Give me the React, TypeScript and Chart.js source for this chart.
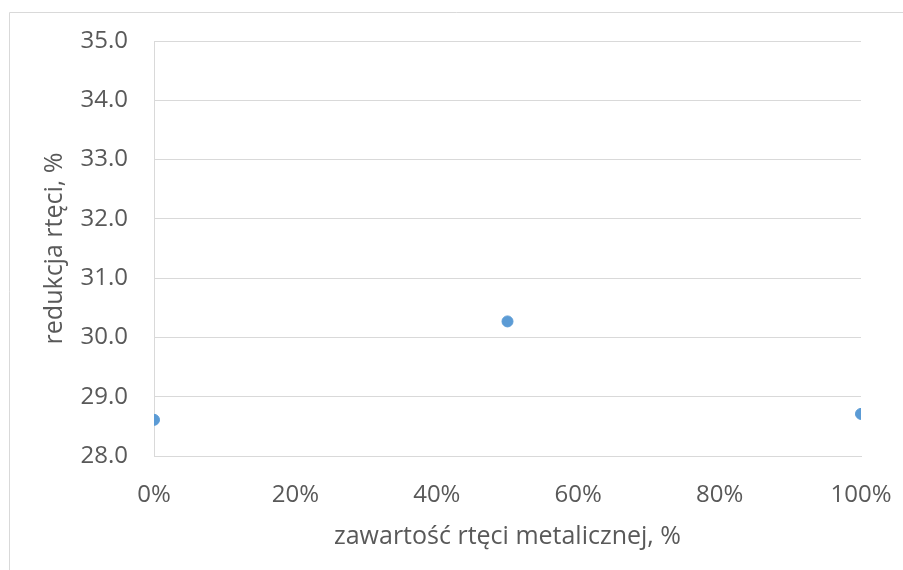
import React, { useEffect, useRef } from "react";
import { Chart, registerables } from "chart.js";

Chart.register(...registerables);

// Metallic mercury share (%) and the resulting mercury reduction (%)
const metallicShare = [0, 50, 100];
const mercuryReduction = [28.61, 30.27, 28.71];

const xTickValues = [0, 20, 40, 60, 80, 100];
const yMin = 28;
const yMax = 35;

const xTitle = "zawartość rtęci metalicznej, %";
const yTitle = "redukcja rtęci, %";

const TEXT = "#595959";
const GRID = "#d9d9d9";
const POINT = "#5b9bd5";
const FONT = "'Open Sans', 'Noto Sans', sans-serif";
const TICK_SIZE = 24;
const TITLE_SIZE = 25;

// Light frame around the whole chart object (top and left edges visible)
const framePlugin = {
  id: "outerFrame",
  beforeDraw(chart: any) {
    const { ctx, width, height } = chart;
    ctx.save();
    ctx.strokeStyle = "#d9d9d9";
    ctx.lineWidth = 1;
    ctx.beginPath();
    ctx.moveTo(9.5, height);
    ctx.lineTo(9.5, 12.5);
    ctx.lineTo(width, 12.5);
    ctx.stroke();
    ctx.restore();
  },
};

export default function App() {
  const canvasRef = useRef<HTMLCanvasElement | null>(null);

  useEffect(() => {
    if (!canvasRef.current) return;
    const chart = new Chart(canvasRef.current, {
      type: "scatter",
      data: {
        datasets: [
          {
            data: metallicShare.map((x, i) => ({ x, y: mercuryReduction[i] })),
            backgroundColor: POINT,
            borderColor: POINT,
            pointRadius: 5.5,
            pointHoverRadius: 5.5,
          },
        ],
      },
      options: {
        responsive: false,
        animation: false,
        events: [],
        layout: { padding: { top: 41, right: 42, bottom: 0, left: 0 } },
        plugins: {
          legend: { display: false },
          tooltip: { enabled: false },
        },
        scales: {
          x: {
            type: "linear",
            min: 0,
            max: 100,
            afterBuildTicks: (scale: any) => {
              scale.ticks = xTickValues.map((v) => ({ value: v }));
            },
            afterFit: (scale: any) => {
              scale.height = 114;
              scale.paddingLeft = 0;
              scale.paddingRight = 0;
            },
            grid: { display: false, drawTicks: false },
            border: { display: true, color: GRID, width: 1 },
            ticks: {
              padding: 25,
              color: TEXT,
              font: { family: FONT, size: TICK_SIZE },
              callback: (v: any) => `${v}%`,
            },
            title: {
              display: true,
              text: xTitle,
              color: TEXT,
              font: { family: FONT, size: TITLE_SIZE },
              padding: { top: 0, bottom: 18 },
            },
          },
          y: {
            type: "linear",
            min: yMin,
            max: yMax,
            afterFit: (scale: any) => {
              scale.width = 154;
              scale.paddingTop = 0;
              scale.paddingBottom = 0;
            },
            grid: { color: GRID, lineWidth: 1, drawTicks: false },
            border: { display: true, color: GRID, width: 1 },
            ticks: {
              stepSize: 1,
              padding: 26,
              color: TEXT,
              font: { family: FONT, size: TICK_SIZE },
              callback: (v: any) => Number(v).toFixed(1),
            },
            title: {
              display: true,
              text: yTitle,
              color: TEXT,
              font: { family: FONT, size: TITLE_SIZE },
              padding: { top: 40, bottom: 0 },
            },
          },
        },
      },
      plugins: [framePlugin],
    });
    return () => chart.destroy();
  }, []);

  return (
    <div style={{ position: "absolute", left: 0, top: 0, width: 903, height: 570, background: "#fff" }}>
      <canvas ref={canvasRef} width={903} height={570} style={{ display: "block" }} />
    </div>
  );
}
